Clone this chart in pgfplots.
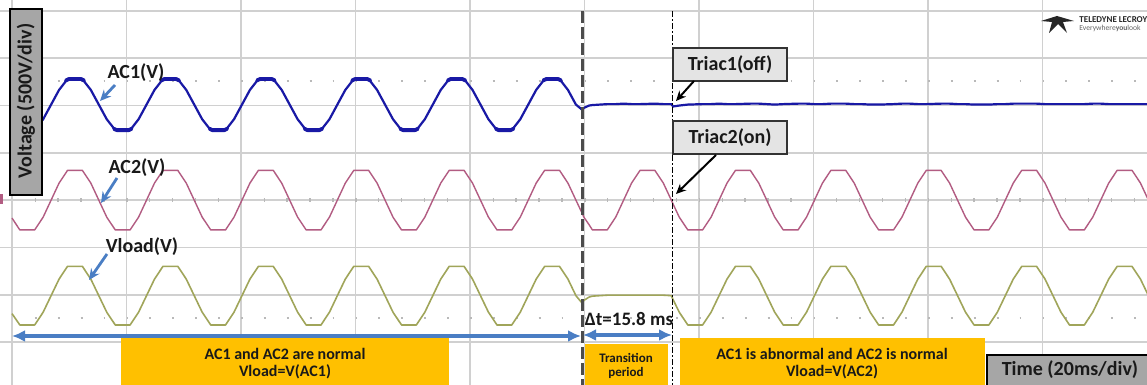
\documentclass[border=0pt]{standalone}
\usepackage{pgfplots}
\pgfplotsset{compat=1.18}
\usepackage{pgfplotstable}
\usepackage{fontspec}
\setmainfont{Carlito}
\usetikzlibrary{arrows.meta}
\definecolor{acone}{RGB}{25,25,165}
\definecolor{actwo}{RGB}{178,92,130}
\definecolor{vload}{RGB}{160,165,90}
\definecolor{gridc}{RGB}{208,208,208}
\definecolor{arrowblue}{RGB}{74,126,196}
\definecolor{boxorange}{RGB}{255,192,0}
\definecolor{boxgrey}{RGB}{166,166,166}
\definecolor{boxlight}{RGB}{228,228,228}

\pgfplotstableread{
t ac1 ac2 vl
0.00 5.69 3.62 1.60
1.37 5.48 3.37 1.36
3.96 5.48 3.37 1.36
5.44 5.71 3.64 1.63
6.83 6.02 4.00 1.98
8.22 6.33 4.36 2.33
9.70 6.56 4.63 2.60
12.29 6.56 4.63 2.60
13.77 6.33 4.36 2.33
15.16 6.02 4.00 1.98
16.55 5.71 3.64 1.63
18.04 5.48 3.37 1.36
20.63 5.48 3.37 1.36
22.11 5.71 3.64 1.63
23.50 6.02 4.00 1.98
24.89 6.33 4.36 2.33
26.37 6.56 4.63 2.60
28.96 6.56 4.63 2.60
30.44 6.33 4.36 2.33
31.83 6.02 4.00 1.98
33.22 5.71 3.64 1.63
34.71 5.48 3.37 1.36
37.30 5.48 3.37 1.36
38.78 5.71 3.64 1.63
40.17 6.02 4.00 1.98
41.56 6.33 4.36 2.33
43.04 6.56 4.63 2.60
45.63 6.56 4.63 2.60
47.11 6.33 4.36 2.33
48.50 6.02 4.00 1.98
49.89 5.71 3.64 1.63
51.38 5.48 3.37 1.36
53.97 5.48 3.37 1.36
55.45 5.71 3.64 1.63
56.83 6.02 4.00 1.98
58.22 6.33 4.36 2.33
59.70 6.56 4.63 2.60
62.29 6.56 4.63 2.60
63.77 6.33 4.36 2.33
65.16 6.02 4.00 1.98
66.55 5.71 3.64 1.63
68.04 5.48 3.37 1.36
70.63 5.48 3.37 1.36
72.11 5.71 3.64 1.63
73.50 6.02 4.00 1.98
74.89 6.33 4.36 2.33
76.37 6.56 4.63 2.60
78.96 6.56 4.63 2.60
80.44 6.33 4.36 2.33
81.83 6.02 4.00 1.98
83.22 5.71 3.64 1.63
84.71 5.48 3.37 1.36
87.30 5.48 3.37 1.36
88.78 5.71 3.64 1.63
90.17 6.02 4.00 1.98
91.56 6.33 4.36 2.33
93.04 6.56 4.63 2.60
95.63 6.56 4.63 2.60
97.11 6.33 4.36 2.33
98.50 6.02 4.00 1.98
99.60 5.91 3.72 1.82
99.89 5.95 3.64 1.88
100.80 6.00 3.48 1.95
101.38 6.01 3.37 1.97
103.97 6.03 3.37 1.99
105.45 6.03 3.64 1.99
106.83 6.04 4.00 1.99
108.22 6.03 4.36 1.99
109.70 6.03 4.63 1.99
112.29 6.04 4.63 1.99
113.77 6.03 4.36 1.99
115.16 6.03 4.00 1.98
115.50 5.98 3.91 1.89
116.55 6.00 3.64 1.63
118.04 6.02 3.37 1.36
120.63 6.03 3.37 1.36
122.11 6.03 3.64 1.63
123.50 6.04 4.00 1.98
124.89 6.03 4.36 2.33
126.37 6.03 4.63 2.60
128.96 6.04 4.63 2.60
130.44 6.04 4.36 2.33
131.83 6.03 4.00 1.98
133.22 6.02 3.64 1.63
134.71 6.03 3.37 1.36
137.30 6.04 3.37 1.36
138.78 6.04 3.64 1.63
140.17 6.03 4.00 1.98
141.56 6.03 4.36 2.33
143.04 6.04 4.63 2.60
145.63 6.04 4.63 2.60
147.11 6.03 4.36 2.33
148.50 6.03 4.00 1.98
149.89 6.02 3.64 1.63
151.38 6.02 3.37 1.36
153.97 6.03 3.37 1.36
155.45 6.04 3.64 1.63
156.83 6.04 4.00 1.98
158.22 6.03 4.36 2.33
159.70 6.03 4.63 2.60
162.29 6.04 4.63 2.60
163.77 6.04 4.36 2.33
165.16 6.03 4.00 1.98
166.55 6.03 3.64 1.63
168.04 6.02 3.37 1.36
170.63 6.02 3.37 1.36
172.11 6.03 3.64 1.63
173.50 6.03 4.00 1.98
174.89 6.04 4.36 2.33
176.37 6.04 4.63 2.60
178.96 6.04 4.63 2.60
180.44 6.03 4.36 2.33
181.83 6.03 4.00 1.98
183.22 6.03 3.64 1.63
184.71 6.03 3.37 1.36
187.30 6.03 3.37 1.36
188.78 6.04 3.64 1.63
190.17 6.04 4.00 1.98
191.56 6.03 4.36 2.33
193.04 6.03 4.63 2.60
195.63 6.03 4.63 2.60
197.11 6.03 4.36 2.33
198.50 6.03 4.00 1.98
}\scopedata

\begin{document}
\begin{tikzpicture}
\path (0,0) rectangle (573.5pt,192.5pt);
\begin{scope}[overlay]
\clip (0,0) rectangle (573.5pt,192.5pt);
\fill[white] (0,0) rectangle (573.5pt,192.5pt);
\begin{axis}[
  overlay,
  at={(0,0)}, anchor=south west, scale only axis,
  width=573.5pt, height=192.5pt,
  xmin=-2.096, xmax=198.25, ymin=0.091, ymax=8.232,
  xtick={0,20,...,180}, ytick={1,...,8},
  xticklabels={}, yticklabels={},
  grid=major, major grid style={gridc, line width=0.8pt},
  tick style={draw=none}, axis line style={draw=none},
  unbounded coords=jump,
]
% scope graticule decorations
\draw[gray!55, line width=0.9pt, dash pattern=on 0.9pt off 10.55pt] (axis cs:4,6.52) -- (axis cs:198.25,6.52);
\draw[gray!55, line width=0.9pt, dash pattern=on 0.9pt off 10.55pt] (axis cs:4,1.51) -- (axis cs:198.25,1.51);
\draw[gray!55, line width=2pt, dash pattern=on 0.7pt off 10.75pt] (axis cs:3.94,4) -- (axis cs:198.25,4);
% traces
\addplot[acone, line width=1.1pt, line join=round] table[x=t, y=ac1] {\scopedata};
\addplot[acone, line width=1.9pt, line cap=round, line join=round] coordinates {
 (1.1,5.51) (1.6,5.48) (3.7,5.48) (4.2,5.51) (4.3,nan)
 (9.4,6.53) (9.9,6.56) (12.1,6.56) (12.6,6.53) (12.7,nan)
 (17.8,5.51) (18.3,5.48) (20.4,5.48) (20.9,5.51) (21.0,nan)
 (26.1,6.53) (26.6,6.56) (28.7,6.56) (29.2,6.53) (29.3,nan)
 (34.5,5.51) (35.0,5.48) (37.1,5.48) (37.6,5.51) (37.7,nan)
 (42.8,6.53) (43.3,6.56) (45.4,6.56) (45.9,6.53) (46.0,nan)
 (51.1,5.51) (51.6,5.48) (53.7,5.48) (54.2,5.51) (54.3,nan)
 (59.4,6.53) (59.9,6.56) (62.1,6.56) (62.6,6.53) (62.7,nan)
 (67.8,5.51) (68.3,5.48) (70.4,5.48) (70.9,5.51) (71.0,nan)
 (76.1,6.53) (76.6,6.56) (78.7,6.56) (79.2,6.53) (79.3,nan)
 (84.5,5.51) (85.0,5.48) (87.1,5.48) (87.6,5.51) (87.7,nan)
 (92.8,6.53) (93.3,6.56) (95.4,6.56) (95.9,6.53)
};
\addplot[actwo, line width=0.7pt, line join=round] table[x=t, y=ac2] {\scopedata};
\addplot[vload, line width=0.8pt, line join=round] table[x=t, y=vl] {\scopedata};
% cursors
\draw[black!70, line width=1.4pt, dash pattern=on 6pt off 2pt] (axis cs:99.6,8) -- (axis cs:99.6,0);
\draw[black, line width=0.6pt, dash pattern=on 3pt off 1.2pt on 0.6pt off 1.2pt] (axis cs:115.4,8) -- (axis cs:115.4,0);
\end{axis}

\begin{scope}[x=0.5pt, y=-0.5pt, shift={(0pt,192.5pt)}]
% channel marker
\fill[actwo] (0,194) rectangle (3,204);
% voltage box
\draw[fill=boxgrey, draw=black, line width=0.6pt] (10,9) rectangle (42,195);
\node[rotate=90, font=\fontsize{10}{12}\selectfont\bfseries, text=black!90] at (26,101) {Voltage (500V/div)};
% trace labels
\node[font=\fontsize{10}{12}\selectfont\bfseries, text=black!90] at (136,73) {AC1(V)};
\draw[-{Stealth[length=5.5pt,width=5pt]}, arrowblue, line width=1.4pt] (115,85) -- (100,101);
\node[font=\fontsize{10}{12}\selectfont\bfseries, text=black!90] at (137,168) {AC2(V)};
\draw[-{Stealth[length=5.5pt,width=5pt]}, arrowblue, line width=1.4pt] (117,178) -- (101,203);
\node[font=\fontsize{10}{12}\selectfont\bfseries, text=black!90] at (142,247) {Vload(V)};
\draw[-{Stealth[length=5.5pt,width=5pt]}, arrowblue, line width=1.4pt] (107,254) -- (89,280);
% period arrows
\draw[{Latex[length=6.5pt,width=6pt]}-{Latex[length=6.5pt,width=6pt]}, arrowblue, line width=2pt] (12,336) -- (581,336);
\draw[{Latex[length=6.5pt,width=6pt]}-{Latex[length=6.5pt,width=6pt]}, arrowblue, line width=2pt] (583,335) -- (672,335);
\node[font=\fontsize{9.5}{11}\selectfont\bfseries, text=black!90] at (629,319) {Δt=15.8 ms};
% orange boxes
\fill[boxorange] (121,338) rectangle (449,392);
\node[font=\fontsize{8}{10}\selectfont\bfseries, text=black!90] at (285,354) {AC1 and AC2 are normal};
\node[font=\fontsize{8}{10}\selectfont\bfseries, text=black!90] at (285,372) {Vload=V(AC1)};
\fill[boxorange] (585,344) rectangle (668,392);
\node[font=\fontsize{6.5}{8}\selectfont\bfseries, text=black!90] at (626,358) {Transition};
\node[font=\fontsize{6.5}{8}\selectfont\bfseries, text=black!90] at (626,373) {period};
\fill[boxorange] (680,338) rectangle (985,392);
\node[font=\fontsize{8}{10}\selectfont\bfseries, text=black!90] at (832,354) {AC1 is abnormal and AC2 is normal};
\node[font=\fontsize{8}{10}\selectfont\bfseries, text=black!90] at (832,372) {Vload=V(AC2)};
% time box
\draw[fill=boxgrey, draw=black, line width=0.8pt] (987,355) rectangle (1152,392);
\node[font=\fontsize{10}{12}\selectfont\bfseries, text=black!90] at (1070,370) {Time (20ms/div)};
% triac boxes
\draw[fill=boxlight, draw=black!80, line width=0.6pt] (673,48) rectangle (787,81);
\node[font=\fontsize{10}{12}\selectfont\bfseries, text=black!90] at (730,64.5) {Triac1(off)};
\draw[fill=boxlight, draw=black!80, line width=0.6pt] (673,121) rectangle (787,154);
\node[font=\fontsize{10}{12}\selectfont\bfseries, text=black!90] at (730,137.5) {Triac2(on)};
\draw[-{Stealth[length=5pt,width=4.5pt]}, black, line width=1pt] (694,81) -- (676,101);
\draw[-{Stealth[length=5pt,width=4.5pt]}, black, line width=1pt] (716,155) -- (676,194);
% logo
\fill[black!85] (1041,21) -- (1057,16) -- (1074,21) -- (1063,22) -- (1067,33) -- (1058,24) -- (1049,33) -- (1052,22) -- cycle;
\node[anchor=west, inner sep=0pt, font=\fontsize{4.5}{5}\selectfont\bfseries, text=black!85] at (1079,19.5) {TELEDYNE LECROY};
\node[anchor=west, inner sep=0pt, font=\fontsize{3.8}{4}\selectfont, text=black!60] at (1079,28) {Everywhere\textbf{you}look};
\end{scope}
\end{scope}
\end{tikzpicture}
\end{document}
